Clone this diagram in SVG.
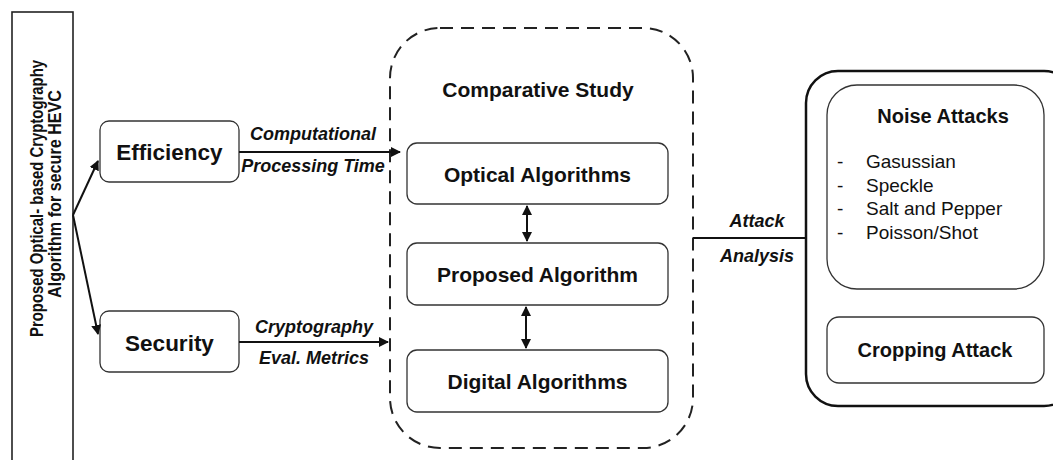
<svg xmlns="http://www.w3.org/2000/svg" width="1053" height="460" viewBox="0 0 1053 460">
<defs>
<style>
.b{font-family:"Liberation Sans",Arial,sans-serif;font-weight:bold;fill:#111;text-anchor:middle}
.i{font-family:"Liberation Sans",Arial,sans-serif;font-weight:bold;font-style:italic;fill:#111;text-anchor:middle;font-size:18px}
.r{font-family:"Liberation Sans",Arial,sans-serif;fill:#111;font-size:19px}
.box{fill:#fff;stroke:#333;stroke-width:1.3}
.ln{stroke:#111;stroke-width:2;fill:none}
</style>
<marker id="ah" viewBox="0 0 10 10" refX="9" refY="5" markerWidth="5" markerHeight="5" orient="auto-start-reverse" markerUnits="strokeWidth">
<path d="M0,0 L10,5 L0,10 z" fill="#111"/>
</marker>
</defs>
<rect width="1053" height="460" fill="#fff"/>

<g id="main">
<rect x="12" y="12" width="61" height="460" fill="#fff" stroke="#222" stroke-width="1.6"/>
<text class="b" font-size="17.5" textLength="277" lengthAdjust="spacingAndGlyphs" transform="translate(43,198.5) rotate(-90)">Proposed Optical- based Cryptography</text>
<text class="b" font-size="17.5" textLength="208" lengthAdjust="spacingAndGlyphs" transform="translate(61,194) rotate(-90)">Algorithm for secure HEVC</text>
</g>

<g id="efficiency">
<rect class="box" x="100" y="121" width="139" height="61" rx="9"/>
<text class="b" font-size="22.5" x="169.5" y="160">Efficiency</text>
</g>

<g id="security">
<rect class="box" x="100" y="311" width="139" height="61" rx="9"/>
<text class="b" font-size="22.5" x="169.5" y="351">Security</text>
</g>

<g id="comparative">
<rect x="390" y="28" width="303" height="420" rx="50" fill="none" stroke="#222" stroke-width="2" stroke-dasharray="13 8"/>
<text class="b" font-size="21" x="538" y="97">Comparative Study</text>
</g>

<g id="optical">
<rect class="box" x="407" y="143" width="261" height="61" rx="10"/>
<text class="b" font-size="21" x="537.5" y="182">Optical Algorithms</text>
</g>

<g id="proposed">
<rect class="box" x="407" y="243" width="261" height="62" rx="10"/>
<text class="b" font-size="21" x="537.5" y="282">Proposed Algorithm</text>
</g>

<g id="digital">
<rect class="box" x="407" y="350" width="261" height="62" rx="10"/>
<text class="b" font-size="21" x="537.5" y="389">Digital Algorithms</text>
</g>

<g id="attacks">
<rect x="806" y="71" width="270" height="335" rx="32" fill="#fff" stroke="#111" stroke-width="2.5"/>
</g>

<g id="noise">
<rect class="box" x="827" y="85" width="217" height="204" rx="30"/>
<text class="b" font-size="20" x="943" y="123">Noise Attacks</text>
<text class="r" x="837" y="168">-</text>
<text class="r" x="866" y="168">Gasussian</text>
<text class="r" x="837" y="191.5">-</text>
<text class="r" x="866" y="191.5">Speckle</text>
<text class="r" x="837" y="215">-</text>
<text class="r" x="866" y="215">Salt and Pepper</text>
<text class="r" x="837" y="238.5">-</text>
<text class="r" x="866" y="238.5">Poisson/Shot</text>
</g>

<g id="cropping">
<rect class="box" x="827" y="317" width="217" height="66" rx="12"/>
<text class="b" font-size="20" x="935" y="357">Cropping Attack</text>
</g>

<g id="connectors">
<line class="ln" x1="73" y1="215" x2="98" y2="161" marker-end="url(#ah)"/>
<line class="ln" x1="73" y1="215" x2="98" y2="334" marker-end="url(#ah)"/>
<line class="ln" x1="239" y1="152" x2="400" y2="152" marker-end="url(#ah)"/>
<line class="ln" x1="239" y1="342" x2="388" y2="342" marker-end="url(#ah)"/>
<line class="ln" x1="527" y1="206" x2="527" y2="241" marker-start="url(#ah)" marker-end="url(#ah)"/>
<line class="ln" x1="526" y1="307" x2="526" y2="348" marker-start="url(#ah)" marker-end="url(#ah)"/>
<line class="ln" x1="693" y1="238" x2="806" y2="238"/>
<text class="i" x="313" y="140">Computational</text>
<text class="i" x="313" y="172">Processing Time</text>
<text class="i" x="314" y="333">Cryptography</text>
<text class="i" x="314" y="364">Eval. Metrics</text>
<text class="i" x="757" y="227">Attack</text>
<text class="i" x="757" y="262">Analysis</text>
</g>
</svg>
